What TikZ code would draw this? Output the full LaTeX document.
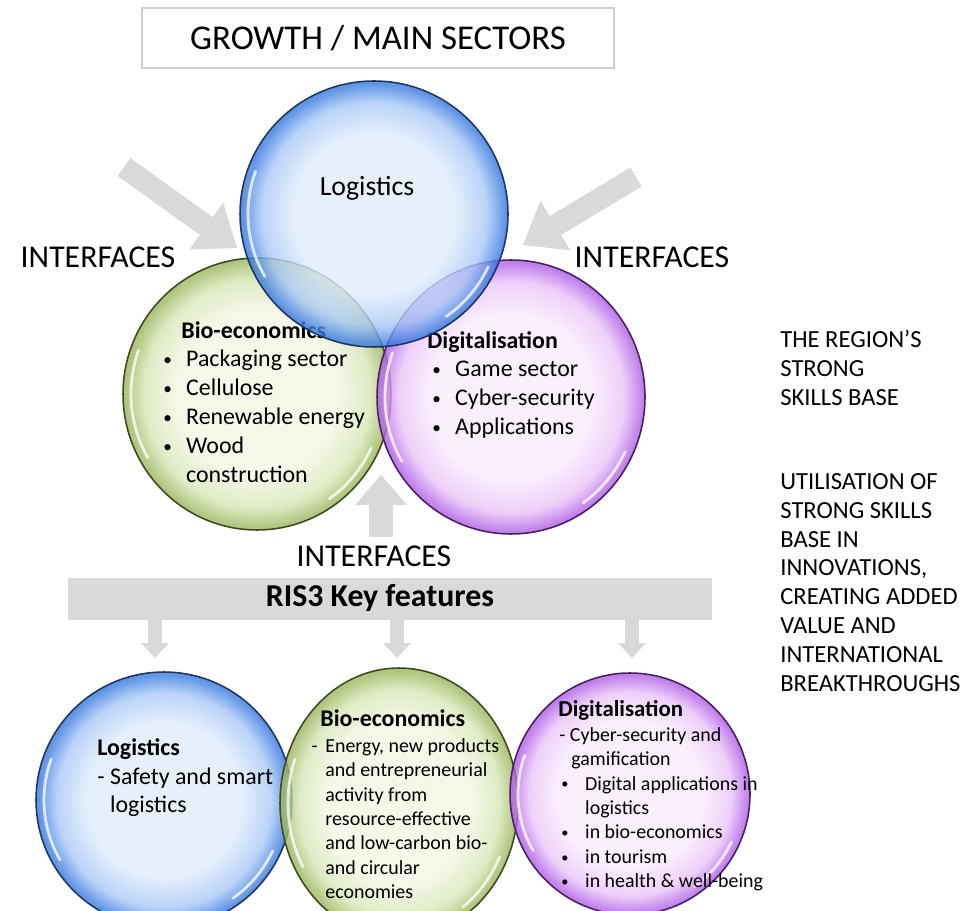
\documentclass[tikz,border=0pt]{standalone}
\usepackage{fontspec}
\setmainfont{Carlito}
\usetikzlibrary{shapes.geometric,arrows.meta}

% colores
\definecolor{azulin}{HTML}{E0ECFC}
\definecolor{azulmed}{HTML}{A8C8F6}
\definecolor{azulout}{HTML}{3A7BE0}
\definecolor{azulborde}{HTML}{1E3660}
\definecolor{verdein}{HTML}{F2F6E4}
\definecolor{verdemed}{HTML}{D8E6B6}
\definecolor{verdeout}{HTML}{9CB860}
\definecolor{verdeborde}{HTML}{3E4A20}
\definecolor{moradoin}{HTML}{FAEBFD}
\definecolor{moradomed}{HTML}{EAC4F8}
\definecolor{moradoout}{HTML}{B262E8}
\definecolor{moradoborde}{HTML}{4B2060}
\definecolor{grisclaro}{HTML}{D9D9D9}
\definecolor{cajagris}{HTML}{CFCFCF}

\pgfdeclareradialshading{azul}{\pgfpoint{0bp}{0bp}}{color(0bp)=(azulin); color(15bp)=(azulin); color(21bp)=(azulmed); color(24.5bp)=(azulout); color(50bp)=(azulout)}
\pgfdeclareradialshading{verde}{\pgfpoint{0bp}{0bp}}{color(0bp)=(verdein); color(15bp)=(verdein); color(21bp)=(verdemed); color(24.5bp)=(verdeout); color(50bp)=(verdeout)}
\pgfdeclareradialshading{morado}{\pgfpoint{0bp}{0bp}}{color(0bp)=(moradoin); color(15bp)=(moradoin); color(21bp)=(moradomed); color(24.5bp)=(moradoout); color(50bp)=(moradoout)}

\newcommand{\punto}{\raisebox{0.12ex}{\scalebox{0.72}{\textbullet}}}
\newcommand{\bul}{\makebox[13pt][l]{\punto}}
\newcommand{\bulc}{\hspace*{1.1pt}\makebox[13.6pt][l]{\punto}}
% brillo blanco de cada circulo
\newcommand{\brillo}[3]{%
    \draw[brillo] ([shift={(150:#2 and #3)}]#1.center) arc[start angle=150, end angle=200, x radius=#2, y radius=#3];
    \draw[brillo] ([shift={(25:#2 and #3)}]#1.center) arc[start angle=25, end angle=55, x radius=#2, y radius=#3];}

\begin{document}
\begin{tikzpicture}[x=0.02cm, y=-0.02cm,
    circulo/.style={ellipse, inner sep=0pt, shade, line width=0.9pt, fill opacity=0.8},
    brillo/.style={white, line width=1.6pt, opacity=0.75, line cap=round},
    texto/.style={anchor=north west, inner sep=0pt, align=left, font=\fontsize{13.6}{16.44}\selectfont},
    textochico/.style={anchor=north west, inner sep=0pt, align=left, font=\fontsize{11.34}{13.9}\selectfont},
    interfaz/.style={inner sep=0pt, font=\fontsize{18.1}{20}\selectfont},
    flechagrande/.style={draw=grisclaro, line width=12.5pt, -{Triangle[length=21.5pt, width=33pt, line width=0pt]}},
    flechamedia/.style={draw=grisclaro, line width=14.2pt, -{Triangle[length=17pt, width=29.5pt, line width=0pt]}},
    flechachica/.style={draw=grisclaro, line width=8.5pt, -{Triangle[length=8.5pt, width=15.9pt, line width=0pt]}}]

    \useasboundingbox (0,0) rectangle (962,911);

    % titulo
    \node[draw=cajagris, line width=1pt, minimum width=9.44cm, minimum height=1.2cm,
          font=\fontsize{19.8}{22}\selectfont] (titulo) at (378,38) {GROWTH / MAIN SECTORS};

    % flechas de interfaces
    \coordinate (colaIzq) at (124,167);
    \coordinate (puntaIzq) at (237,248);
    \coordinate (colaDer) at (636,177);
    \coordinate (puntaDer) at (523,245);
    \coordinate (colaAba) at (381,537);
    \coordinate (puntaAba) at (381,475);
    \draw[flechagrande] (colaIzq) -- (puntaIzq);
    \draw[flechagrande] (colaDer) -- (puntaDer);
    \draw[flechamedia] (colaAba) -- (puntaAba);

    \node[interfaz] (interIzq) at (98,257) {INTERFACES};
    \node[interfaz] (interDer) at (652,257) {INTERFACES};
    \node[interfaz] (interAba) at (374,556) {INTERFACES};

    % circulos superiores
    \node[circulo, shading=verde, draw=verdeborde, minimum width=5.36cm, minimum height=5.44cm] (bioArr) at (257,394) {};
    \brillo{bioArr}{126}{128}
    \node[texto, font=\fontsize{13.6}{16.44}\selectfont\bfseries] (bioArrTit) at (181,321) {Bio-economics};
    \node[texto] (bioArrLista) at (163,350) {\bul Packaging sector\\ \bul Cellulose\\ \bul Renewable energy\\ \bul Wood\\ \hspace*{13pt}construction};

    \node[circulo, shading=morado, draw=moradoborde, minimum width=5.36cm, minimum height=5.48cm] (digArr) at (511,397) {};
    \brillo{digArr}{126}{129}
    \node[texto, font=\fontsize{13.6}{16.44}\selectfont\bfseries] (digArrTit) at (427,331) {Digitalisation};
    \node[texto] (digArrLista) at (432,361) {\bul Game sector\\ \bul Cyber-security\\ \bul Applications};

    \node[circulo, shading=azul, draw=azulborde, minimum width=5.36cm, minimum height=5.32cm] (logArr) at (374,214) {};
    \brillo{logArr}{126}{125}
    \node[inner sep=0pt, font=\fontsize{15.8}{18}\selectfont] (logArrTit) at (367,188) {Logistics};

    % barra RIS3
    \node[fill=grisclaro, minimum width=12.88cm, minimum height=0.84cm, inner sep=0pt] (barra) at (390,599) {};
    \node[inner sep=0pt, font=\fontsize{18.1}{20}\selectfont\bfseries] (ris) at (380,598) {RIS3 Key features};

    \coordinate (pLog) at (155,658);
    \coordinate (pBio) at (397,658);
    \coordinate (pDig) at (632,658);
    \draw[flechachica] (barra.south -| pLog) -- (pLog);
    \draw[flechachica] (barra.south -| pBio) -- (pBio);
    \draw[flechachica] (barra.south -| pDig) -- (pDig);

    % circulos inferiores
    \node[circulo, shading=azul, draw=azulborde, minimum width=5.12cm, minimum height=5.12cm] (logAba) at (164,800) {};
    \brillo{logAba}{120}{120}
    \node[texto] (logAbaTxt) at (97,738) {\textbf{Logistics}\\- Safety and smart\\\phantom{- }logistics};

    \node[circulo, shading=verde, draw=verdeborde, minimum width=4.76cm, minimum height=5.4cm] (bioAba) at (399,803) {};
    \brillo{bioAba}{111}{127}
    \node[texto, font=\fontsize{13.6}{16.44}\selectfont\bfseries] (bioAbaTit) at (320,709) {Bio-economics};
    \node[textochico] (bioAbaTxt) at (325,738) {\llap{-\hspace{4.4pt}}Energy, new products\\and entrepreneurial\\activity from\\resource-effective\\and low-carbon bio-\\and circular\\economies};

    \node[circulo, shading=morado, draw=moradoborde, minimum width=4.8cm, minimum height=4.84cm] (digAba) at (630,794) {};
    \brillo{digAba}{112}{113}
    \node[texto, font=\fontsize{13}{16}\selectfont\bfseries] (digAbaTit) at (558,700) {Digitalisation};
    \node[textochico] (digAbaTxt) at (559,727) {- Cyber-security and\\\hspace*{6.8pt}gamification\\\bulc Digital applications in\\\hspace*{14.7pt}logistics\\\bulc in bio-economics\\\bulc in tourism\\\bulc in health \& well-being};

    % textos de la derecha
    \node[texto, font=\fontsize{14}{16.44}\selectfont] (base) at (780,330) {THE REGION’S\\STRONG\\SKILLS BASE};
    \node[texto, font=\fontsize{14}{16.44}\selectfont] (uso) at (780,473) {UTILISATION OF\\STRONG SKILLS\\BASE IN\\INNOVATIONS,\\CREATING ADDED\\VALUE AND\\INTERNATIONAL\\BREAKTHROUGHS};
\end{tikzpicture}
\end{document}
